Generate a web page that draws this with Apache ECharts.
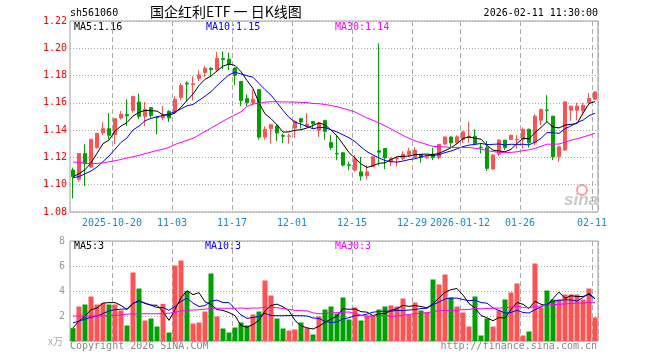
<!DOCTYPE html>
<html><head><meta charset="utf-8">
<script src="https://cdn.jsdelivr.net/npm/echarts@6/dist/echarts.min.js"></script>
<style>html,body{margin:0;padding:0;background:#fff}#c{width:660px;height:360px}</style>
</head><body><div id="c"></div>
<script>
const dates = [
'2025-10-09','2025-10-10','2025-10-13','2025-10-14','2025-10-15','2025-10-16','2025-10-17','2025-10-20','2025-10-21','2025-10-22',
'2025-10-23','2025-10-24','2025-10-27','2025-10-28','2025-10-29','2025-10-30','2025-10-31','2025-11-03','2025-11-04','2025-11-05',
'2025-11-06','2025-11-07','2025-11-10','2025-11-11','2025-11-12','2025-11-13','2025-11-14','2025-11-17','2025-11-18','2025-11-19',
'2025-11-20','2025-11-21','2025-11-24','2025-11-25','2025-11-26','2025-11-27','2025-11-28','2025-12-01','2025-12-02','2025-12-03',
'2025-12-04','2025-12-05','2025-12-08','2025-12-09','2025-12-10','2025-12-11','2025-12-12','2025-12-15','2025-12-16','2025-12-17',
'2025-12-18','2025-12-19','2025-12-22','2025-12-23','2025-12-24','2025-12-25','2025-12-26','2025-12-29','2025-12-30','2025-12-31',
'2026-01-05','2026-01-06','2026-01-07','2026-01-08','2026-01-09','2026-01-12','2026-01-13','2026-01-14','2026-01-15','2026-01-16',
'2026-01-19','2026-01-20','2026-01-21','2026-01-22','2026-01-23','2026-01-26','2026-01-27','2026-01-28','2026-01-29','2026-01-30',
'2026-02-02','2026-02-03','2026-02-04','2026-02-05','2026-02-06','2026-02-09','2026-02-10','2026-02-11'];
const opens = [
1.1107,1.1040,1.1229,1.1130,1.1272,1.1380,1.1411,1.1367,1.1489,1.1516,
1.1545,1.1606,1.1501,1.1565,1.1495,1.1489,1.1538,1.1533,1.1640,1.1745,
1.1733,1.1778,1.1822,1.1853,1.1842,1.1925,1.1920,1.1855,1.1757,1.1631,
1.1601,1.1697,1.1349,1.1411,1.1430,1.1360,1.1355,1.1415,1.1484,1.1428,
1.1464,1.1399,1.1472,1.1310,1.1230,1.1234,1.1146,1.1107,1.1095,1.1066,
1.1132,1.1249,1.1265,1.1168,1.1190,1.1193,1.1220,1.1200,1.1222,1.1198,
1.1224,1.1200,1.1298,1.1350,1.1307,1.1332,1.1346,1.1356,1.1275,1.1271,
1.1115,1.1224,1.1327,1.1332,1.1330,1.1332,1.1407,1.1307,1.1473,1.1548,
1.1502,1.1205,1.1254,1.1546,1.1546,1.1541,1.1600,1.1627];
const closes = [
1.1059,1.1229,1.1155,1.1333,1.1375,1.1411,1.1362,1.1484,1.1516,1.1505,
1.1648,1.1501,1.1552,1.1508,1.1490,1.1508,1.1489,1.1626,1.1728,1.1738,
1.1740,1.1805,1.1853,1.1845,1.1927,1.1918,1.1880,1.1801,1.1618,1.1601,
1.1626,1.1349,1.1404,1.1440,1.1379,1.1355,1.1358,1.1464,1.1460,1.1443,
1.1447,1.1452,1.1391,1.1273,1.1226,1.1144,1.1143,1.1188,1.1063,1.1095,
1.1205,1.1238,1.1196,1.1190,1.1195,1.1222,1.1246,1.1252,1.1198,1.1205,
1.1200,1.1296,1.1350,1.1307,1.1351,1.1388,1.1356,1.1302,1.1271,1.1120,
1.1217,1.1327,1.1271,1.1363,1.1333,1.1407,1.1307,1.1502,1.1551,1.1545,
1.1205,1.1278,1.1607,1.1576,1.1576,1.1583,1.1632,1.1680];
const lows = [
1.0900,1.1025,1.0990,1.1120,1.1265,1.1362,1.1333,1.1296,1.1477,1.1430,
1.1528,1.1480,1.1430,1.1490,1.1370,1.1472,1.1460,1.1520,1.1618,1.1610,
1.1618,1.1760,1.1788,1.1795,1.1830,1.1846,1.1840,1.1730,1.1577,1.1577,
1.1582,1.1330,1.1330,1.1301,1.1320,1.1305,1.1300,1.1342,1.1411,1.1420,
1.1411,1.1350,1.1330,1.1254,1.1180,1.1132,1.1107,1.1095,1.1030,1.1039,
1.1130,1.1140,1.1114,1.1135,1.1135,1.1180,1.1203,1.1198,1.1162,1.1190,
1.1180,1.1185,1.1290,1.1270,1.1300,1.1307,1.1307,1.1298,1.1230,1.1102,
1.1112,1.1210,1.1254,1.1327,1.1266,1.1266,1.1273,1.1290,1.1437,1.1460,
1.1180,1.1168,1.1249,1.1468,1.1473,1.1510,1.1595,1.1620];
const highs = [
1.1124,1.1232,1.1296,1.1336,1.1382,1.1457,1.1525,1.1486,1.1540,1.1626,
1.1650,1.1667,1.1606,1.1567,1.1500,1.1577,1.1545,1.1648,1.1745,1.1757,
1.1795,1.1838,1.1870,1.1862,1.1973,1.1976,1.1968,1.1862,1.1757,1.1662,
1.1697,1.1697,1.1428,1.1442,1.1442,1.1374,1.1374,1.1472,1.1490,1.1525,
1.1466,1.1460,1.1472,1.1363,1.1359,1.1241,1.1168,1.1217,1.1205,1.1144,
1.1210,1.2036,1.1268,1.1204,1.1208,1.1245,1.1270,1.1275,1.1224,1.1215,
1.1270,1.1298,1.1352,1.1352,1.1362,1.1390,1.1460,1.1407,1.1302,1.1322,
1.1224,1.1334,1.1327,1.1363,1.1363,1.1420,1.1410,1.1515,1.1558,1.1656,
1.1505,1.1280,1.1610,1.1580,1.1600,1.1600,1.1673,1.1685];
const volumes = [
1.03,2.76,2.92,3.56,2.92,3.03,2.92,2.92,2.44,1.24,
5.48,4.20,1.64,1.80,1.16,2.97,0.68,6.04,6.44,3.99,
1.40,1.48,2.36,5.40,1.96,1.00,0.68,1.08,1.48,1.24,
2.12,2.36,4.84,3.64,1.80,1.00,0.84,0.92,1.48,1.03,
0.52,1.96,2.52,2.76,2.20,3.48,1.72,2.68,1.64,2.04,
2.04,2.52,2.76,2.84,2.76,3.40,2.09,3.08,2.44,2.30,
4.92,4.52,5.32,3.48,2.76,2.28,1.16,3.56,0.44,1.80,
1.16,2.44,3.32,3.88,4.60,0.44,0.76,6.20,2.68,4.04,
3.32,3.32,3.72,3.72,3.72,3.32,4.20,1.88];
// moving-average values before enough history is on screen
const ma5Head = [1.106,1.108,1.111,1.116];
const ma10Head = [1.105,1.106,1.108,1.110,1.113,1.117,1.121,1.126,1.131];
const ma30Head = [1.1166,1.1163,1.1158,1.1154,1.1156,1.1160,1.1168,1.1176,1.1185,1.1195,
1.1205,1.1215,1.1227,1.1239,1.1251,1.1261,1.1273,1.1295,1.1310,1.1325,
1.1340,1.1365,1.1390,1.1415,1.1440,1.1466,1.1490,1.1512,1.1534];
const vma5Head = [1.05,1.6,2.0,2.5];
const vma10Head = [1.45,1.6,1.75,1.9,2.0,2.2,2.4,2.5,2.55];
const vma30Head = [2.0,2.0,2.0,2.0,2.0,2.02,2.03,2.05,2.08,2.15,
2.17,2.18,2.18,2.18,2.18,2.2,2.22,2.3,2.4,2.45,
2.48,2.5,2.55,2.6,2.62,2.62,2.62,2.62,2.64];
const tickLabels = {'2025-10-20':'2025-10-20','2025-11-03':'11-03','2025-11-17':'11-17','2025-12-01':'12-01',
'2025-12-15':'12-15','2025-12-29':'12-29','2026-01-12':'2026-01-12','2026-01-26':'01-26','2026-02-11':'02-11'};
const priceTicks = {min:1.08, max:1.22, step:0.02};
const volTicks = {min:0, max:8, step:2};

const UP = '#ff5252', DOWN = '#00a000';
const MONO = '"DejaVu Sans Mono", monospace';
function ma(vals, n, head) {
  return vals.map((v, i) => {
    if (i < n - 1) return head[i];
    let s = 0; for (let k = i - n + 1; k <= i; k++) s += vals[k];
    return +(s / n).toFixed(5);
  });
}
const ma5 = ma(closes, 5, ma5Head), ma10 = ma(closes, 10, ma10Head), ma30 = ma(closes, 30, ma30Head);
const vma5 = ma(volumes, 5, vma5Head), vma10 = ma(volumes, 10, vma10Head), vma30 = ma(volumes, 30, vma30Head);
const N = dates.length;
const isTick = (i) => tickLabels[dates[i]] !== undefined;

const chart = echarts.init(document.getElementById('c'));
const xBase = (gi, labels) => ({
  type: 'category', gridIndex: gi, data: dates, boundaryGap: true,
  axisLine: {show: false}, axisTick: {show: false},
  axisLabel: labels ? {show: true, interval: (i) => isTick(i), formatter: (v) => tickLabels[v] || '',
    color: '#1a8ad0', fontFamily: MONO, fontSize: 10, margin: 6, padding: [0, 6, 0, 0]} : {show: false},
  splitLine: {show: true, interval: (i) => isTick(i), lineStyle: {color: '#aaa', type: [5, 3], width: 1}}
});
const txt = (x, y, s, color, extra) => Object.assign({type: 'text', left: x, top: y, silent: true,
  style: {text: s, fill: color, font: '10px ' + MONO}}, extra || {});

chart.setOption({
  animation: false,
  backgroundColor: '#fff',
  grid: [
    {left: 70, top: 21, width: 528, height: 191, show: true, borderColor: '#a0a0a0', borderWidth: 1, backgroundColor: 'transparent'},
    {left: 70, top: 241, width: 528, height: 100, show: true, borderColor: '#a0a0a0', borderWidth: 1, backgroundColor: 'transparent'}
  ],
  xAxis: [xBase(0, true), xBase(1, false)],
  yAxis: [
    {type: 'value', gridIndex: 0, min: priceTicks.min, max: priceTicks.max, interval: priceTicks.step,
     axisLine: {show: false}, axisTick: {show: false},
     axisLabel: {color: '#ff0000', fontFamily: MONO, fontSize: 10, margin: 3, formatter: (v) => v.toFixed(2)},
     splitLine: {lineStyle: {color: '#a8a8a8', type: [1, 2]}}},
    {type: 'value', gridIndex: 1, min: volTicks.min, max: volTicks.max, interval: volTicks.step,
     axisLine: {show: false}, axisTick: {show: false},
     axisLabel: {color: '#999', fontFamily: MONO, fontSize: 10, margin: 5, formatter: (v) => v === 0 ? '' : String(v)},
     splitLine: {lineStyle: {color: '#a8a8a8', type: [1, 2]}}}
  ],
  series: [
    {type: 'candlestick', xAxisIndex: 0, yAxisIndex: 0, barWidth: 4,
     data: dates.map((d, i) => [opens[i], closes[i], lows[i], highs[i]]),
     itemStyle: {color: UP, color0: DOWN, borderColor: UP, borderColor0: DOWN, borderWidth: 1}},
    {type: 'line', xAxisIndex: 0, yAxisIndex: 0, data: ma5, showSymbol: false, lineStyle: {color: '#000', width: 1}},
    {type: 'line', xAxisIndex: 0, yAxisIndex: 0, data: ma10, showSymbol: false, lineStyle: {color: '#0000ff', width: 1}},
    {type: 'line', xAxisIndex: 0, yAxisIndex: 0, data: ma30, showSymbol: false, lineStyle: {color: '#ff00ff', width: 1}},
    {type: 'bar', xAxisIndex: 1, yAxisIndex: 1, barWidth: 5,
     data: volumes.map((v, i) => ({value: v, itemStyle: {color: closes[i] >= opens[i] ? UP : DOWN}}))},
    {type: 'line', xAxisIndex: 1, yAxisIndex: 1, data: vma5, showSymbol: false, lineStyle: {color: '#000', width: 1}},
    {type: 'line', xAxisIndex: 1, yAxisIndex: 1, data: vma10, showSymbol: false, lineStyle: {color: '#0000ff', width: 1}},
    {type: 'line', xAxisIndex: 1, yAxisIndex: 1, data: vma30, showSymbol: false, lineStyle: {color: '#ff00ff', width: 1}}
  ],
  graphic: [
    txt(70, 8, 'sh561060', '#000'),
    {type: 'text', left: 150, top: 5, silent: true, style: {text: '国企红利ETF 一 日K线图', fill: '#000', font: '14px "Noto Sans CJK SC", sans-serif'}},
    {type: 'text', right: 62, top: 8, silent: true, style: {text: '2026-02-11 11:30:00', fill: '#000', font: '10px ' + MONO}},
    txt(74, 22, 'MA5:' + ma5[N - 1].toFixed(2), '#000'),
    txt(206, 22, 'MA10:' + ma10[N - 1].toFixed(2), '#0000ff'),
    txt(335, 22, 'MA30:' + ma30[N - 1].toFixed(2), '#ff00ff'),
    txt(74, 241, 'MA5:' + vma5[N - 1].toFixed(0), '#000'),
    txt(205, 241, 'MA10:' + vma10[N - 1].toFixed(0), '#0000ff'),
    txt(335, 241, 'MA30:' + vma30[N - 1].toFixed(0), '#ff00ff'),
    txt(70, 341, 'Copyright 2026 SINA.COM', '#888'),
    {type: 'text', right: 63, top: 341, silent: true, style: {text: 'http://finance.sina.com.cn', fill: '#888', font: '10px ' + MONO}},
    {type: 'text', left: 48, top: 336, silent: true, style: {text: 'x万', fill: '#aaa', font: '10px "Noto Sans CJK SC", sans-serif'}},
    {type: 'circle', shape: {cx: 582, cy: 190, r: 5}, silent: true, style: {fill: 'none', stroke: '#f4a0a0', lineWidth: 2}},
    {type: 'text', left: 564, top: 192, silent: true, style: {text: 'sina', fill: '#c8c8c8', font: 'italic bold 17px sans-serif'}}
  ]
});
</script></body></html>
